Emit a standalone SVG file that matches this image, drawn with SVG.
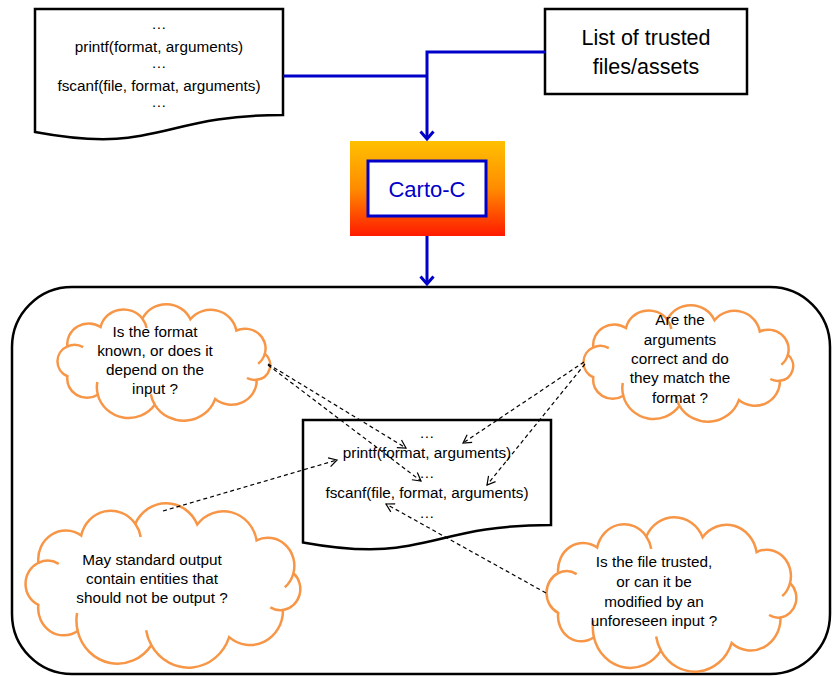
<svg xmlns="http://www.w3.org/2000/svg" xmlns:xlink="http://www.w3.org/1999/xlink" width="832" height="676" viewBox="0 0 832 676">
<style>
  text { font-family: "Liberation Sans", Arial, sans-serif; fill: #000; }
  .t15 { font-size: 15.3px; text-anchor: middle; }
  .doc { fill: #fff; stroke: #000; stroke-width: 2.5; }
  .cloud { fill: #fff; stroke: #F79646; stroke-width: 2.5; }
  .cloudIn { fill: none; stroke: #F79646; stroke-width: 2.5; }
  .blue { fill: none; stroke: #0000C8; stroke-width: 3; }
  .dash { fill: none; stroke: #000; stroke-width: 1.2; stroke-dasharray: 4 3; marker-end: url(#arrDash); }
</style>
<defs>
  <linearGradient id="fire" x1="0" y1="0" x2="0" y2="1">
    <stop offset="0" stop-color="#FFC000"/>
    <stop offset="0.5" stop-color="#FF8C00"/>
    <stop offset="1" stop-color="#FF1A00"/>
  </linearGradient>
  <marker id="arrDash" markerUnits="userSpaceOnUse" viewBox="-10 -6 12 12" refX="0" refY="0" markerWidth="12" markerHeight="12" orient="auto">
    <path d="M-8,-4.5 L0,0 L-8,4.5" fill="none" stroke="#000" stroke-width="1.2"/>
  </marker>
  <marker id="arrBlue" markerUnits="userSpaceOnUse" viewBox="-10 -9 14 18" refX="0" refY="0" markerWidth="14" markerHeight="18" orient="auto">
    <path d="M-7.5,-6.5 L0,0 L-7.5,6.5" fill="none" stroke="#0000C8" stroke-width="3"/>
  </marker>
  <path id="cloudShape" vector-effect="non-scaling-stroke" d="M19.2,63 A14.3,14.3 0 0 1 19.2,37 A17.9,17.9 0 0 1 47,20.1 A19.7,19.7 0 0 1 82.1,12.8 A22.1,22.1 0 0 1 122.3,13.3 A21.8,21.8 0 0 1 160.8,23.1 A17.3,17.3 0 0 1 184.7,43.4 A13,13 0 0 1 177.9,66.1 A21.3,21.3 0 0 1 143,82.9 A27.9,27.9 0 0 1 92.5,87.9 A26.7,26.7 0 0 1 44.7,79.1 A16.6,16.6 0 0 1 19.2,63 Z"/>
  <path id="cloudInner" vector-effect="non-scaling-stroke" d="M19.2,37 A14.3,14.3 0 0 1 32.4,37.6 M82.1,12.8 A19.7,19.7 0 0 1 85.6,21 M184.7,43.4 A17.3,17.3 0 0 1 179.1,52.1 M177.9,66.1 A13,13 0 0 1 169.7,64.5 M92.5,87.9 A27.9,27.9 0 0 1 89.1,78.6 M44.7,79.1 A26.7,26.7 0 0 1 44.3,68"/>
</defs>

<rect width="832" height="676" fill="#fff"/>

<g id="container">
  <rect x="12" y="287" width="818" height="387" rx="60" ry="60" fill="#fff" stroke="#000" stroke-width="2.5"/>
</g>

<g id="source-doc">
  <path class="doc" d="M35,9 H283 V115 C159,115 159,155.2 35,132 Z"/>
  <text class="t15" x="159" y="29">…</text>
  <text class="t15" x="159" y="52">printf(format, arguments)</text>
  <text class="t15" x="159" y="68">…</text>
  <text class="t15" x="159" y="91">fscanf(file, format, arguments)</text>
  <text class="t15" x="159" y="107">…</text>
</g>

<g id="trusted-list">
  <rect x="545" y="9" width="202" height="85" fill="#fff" stroke="#000" stroke-width="2.5"/>
  <text x="646" y="45" font-size="21.5" text-anchor="middle">List of trusted</text>
  <text x="646" y="74" font-size="21.5" text-anchor="middle">files/assets</text>
</g>

<g id="carto-c">
  <rect x="350" y="141" width="155" height="95" fill="url(#fire)"/>
  <rect x="368" y="161" width="118" height="55" fill="#fff" stroke="#0000C8" stroke-width="3"/>
  <text x="427" y="197" font-size="22" text-anchor="middle" style="fill:#0000C8">Carto-C</text>
</g>

<g id="analysed-doc">
  <path class="doc" d="M303,420 H551 V525 C427,525 427,565 303,542.4 Z"/>
  <text class="t15" x="427" y="438">…</text>
  <text class="t15" x="427" y="458">printf(format, arguments)</text>
  <text class="t15" x="427" y="478">…</text>
  <text class="t15" x="427" y="498">fscanf(file, format, arguments)</text>
  <text class="t15" x="427" y="518">…</text>
</g>

<g id="cloud-format">
  <use xlink:href="#cloudShape" class="cloud" transform="translate(44.5,304) scale(1.193,1.147)"/>
  <use xlink:href="#cloudInner" class="cloudIn" transform="translate(44.5,304) scale(1.193,1.147)"/>
  <text class="t15" x="155" y="337">Is the format</text>
  <text class="t15" x="155" y="356">known, or does it</text>
  <text class="t15" x="155" y="375">depend on the</text>
  <text class="t15" x="155" y="394">input ?</text>
</g>

<g id="cloud-arguments">
  <use xlink:href="#cloudShape" class="cloud" transform="translate(570.7,305) scale(1.176,1.147)"/>
  <use xlink:href="#cloudInner" class="cloudIn" transform="translate(570.7,305) scale(1.176,1.147)"/>
  <text class="t15" x="680" y="325">Are the</text>
  <text class="t15" x="680" y="345">arguments</text>
  <text class="t15" x="680" y="364">correct and do</text>
  <text class="t15" x="680" y="383">they match the</text>
  <text class="t15" x="680" y="403">format ?</text>
</g>

<g id="cloud-output">
  <use xlink:href="#cloudShape" class="cloud" transform="translate(8.8,503) scale(1.541,1.618)"/>
  <use xlink:href="#cloudInner" class="cloudIn" transform="translate(8.8,503) scale(1.541,1.618)"/>
  <text class="t15" x="152" y="565">May standard output</text>
  <text class="t15" x="152" y="584">contain entities that</text>
  <text class="t15" x="152" y="603">should not be output ?</text>
</g>

<g id="cloud-file">
  <use xlink:href="#cloudShape" class="cloud" transform="translate(531.3,517) scale(1.401,1.52)"/>
  <use xlink:href="#cloudInner" class="cloudIn" transform="translate(531.3,517) scale(1.401,1.52)"/>
  <text class="t15" x="654" y="567">Is the file trusted,</text>
  <text class="t15" x="654" y="587">or can it be</text>
  <text class="t15" x="654" y="607">modified by an</text>
  <text class="t15" x="654" y="626">unforeseen input ?</text>
</g>

<g id="connectors">
  <path class="blue" d="M283,76 H427"/>
  <path class="blue" d="M545,52 H427 V139" marker-end="url(#arrBlue)"/>
  <path class="blue" d="M427,236 V284" marker-end="url(#arrBlue)"/>
  <path class="dash" d="M268,364 L406,448"/>
  <path class="dash" d="M268,365 L421,481"/>
  <path class="dash" d="M584,362 L463,443"/>
  <path class="dash" d="M585,364 L487,485"/>
  <path class="dash" d="M163,511 L337,460"/>
  <path class="dash" d="M546,593 L386,504"/>
</g>
</svg>
